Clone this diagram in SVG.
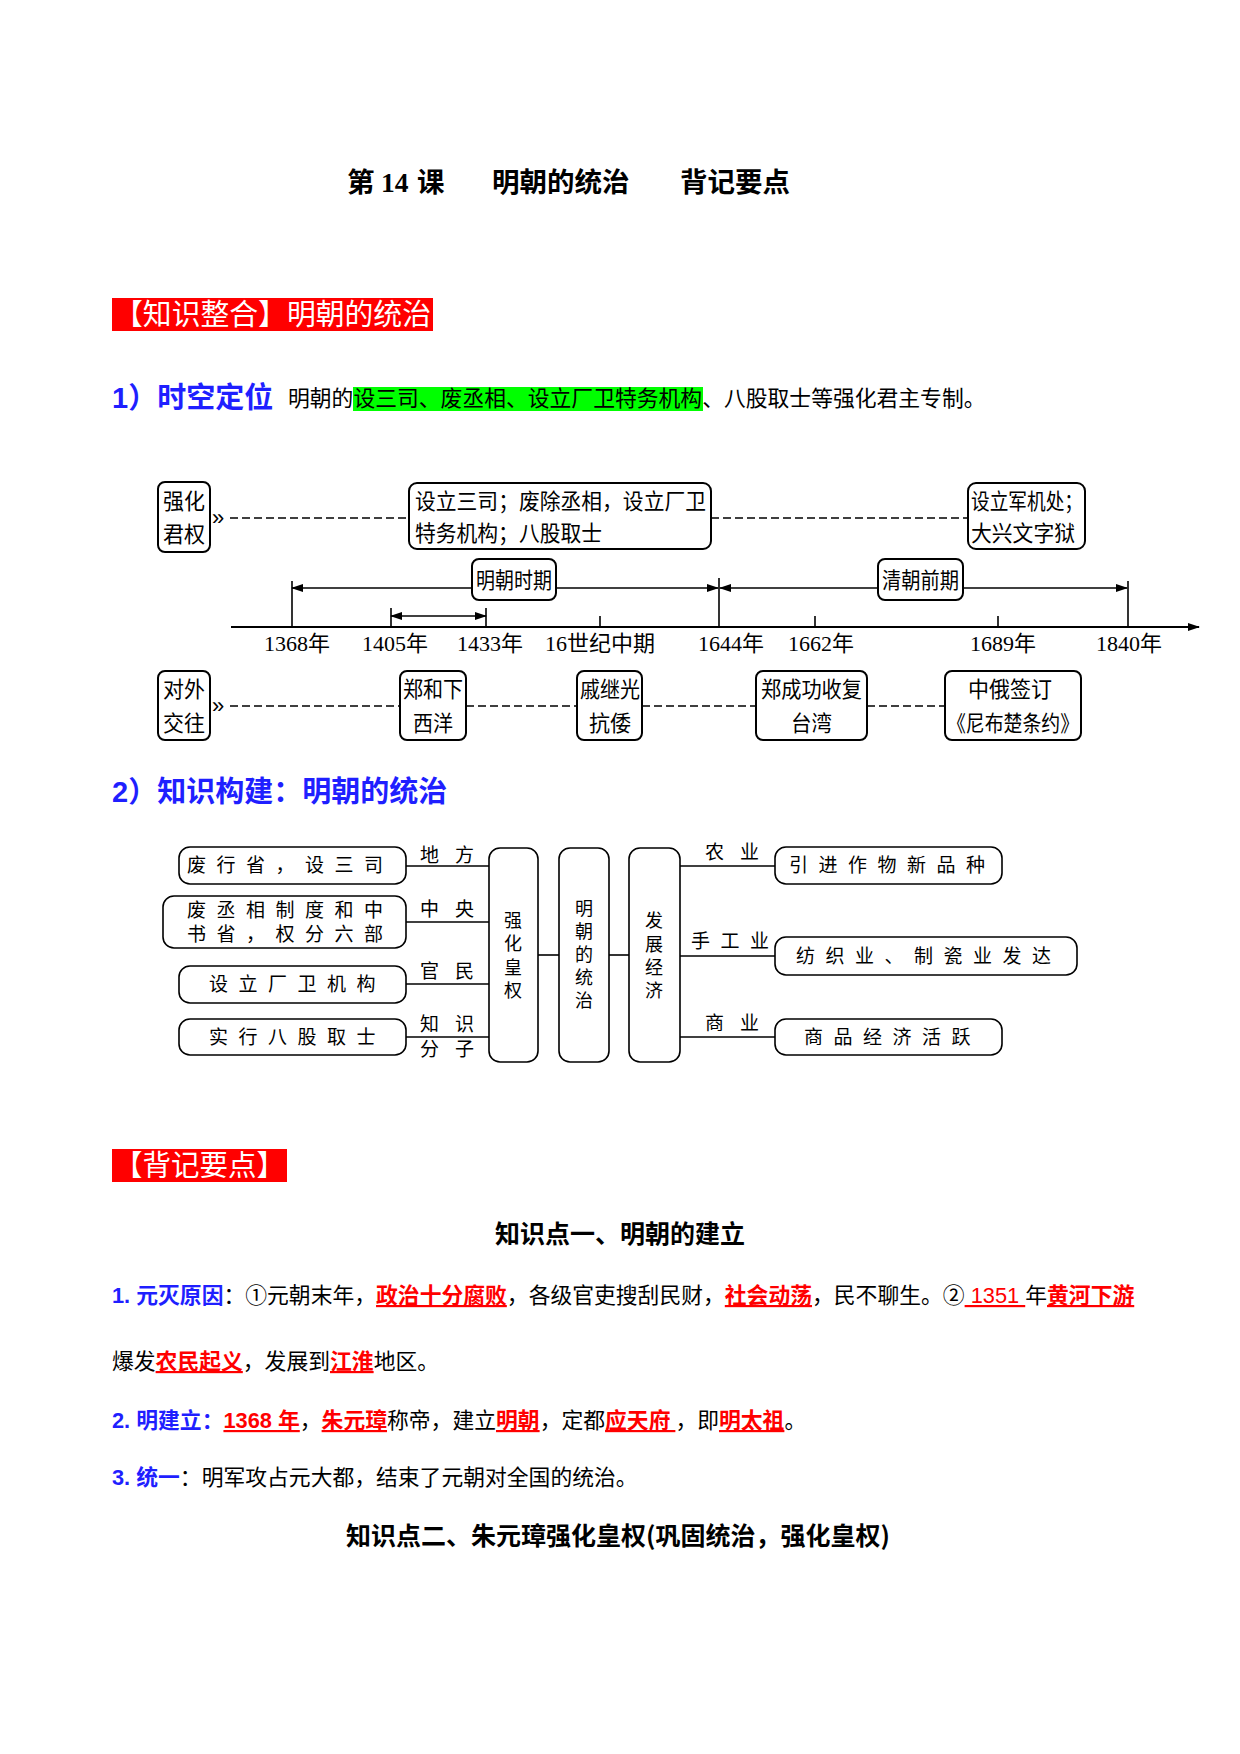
<svg xmlns="http://www.w3.org/2000/svg" width="1240" height="1754" viewBox="0 0 1240 1754">
<style>
text{font-family:"Noto Sans CJK SC","Liberation Sans",sans-serif;fill:#000}
.title{font-size:27.5px;font-weight:bold}
.banner{fill:#ff0000}
.bt{font-size:29px;fill:#fff}
.h{font-size:29px;font-weight:bold;fill:#1f1fff}
.body{font-size:21.8px;white-space:pre}
.blue{fill:#1f1fff;font-weight:bold}
.red{fill:#ff0000;font-weight:bold;text-decoration:underline}
.redn{fill:#ff0000;text-decoration:underline}
.sub{font-size:25px;font-weight:bold}
.tb{fill:#fff;stroke:#000;stroke-width:2}
.tt{font-size:22px}
.lab{font-size:22px}
.num{font-family:"Liberation Serif",serif}
.dash{stroke:#000;stroke-width:1.6;stroke-dasharray:8 4;fill:none}
.ln{stroke:#000;stroke-width:1.6;fill:none}
.sb{fill:#fff;stroke:#000;stroke-width:1.6}
.st{font-size:19px;letter-spacing:10.5px}
.sl{font-size:19px;letter-spacing:16px}
.vt{font-size:18px;text-anchor:middle}
.chev{font-size:22px;font-family:"Liberation Sans",sans-serif}
</style>
<defs>
<marker id="ar" markerWidth="12" markerHeight="10" refX="11" refY="5" orient="auto-start-reverse" markerUnits="userSpaceOnUse">
<path d="M0,1 L12,5 L0,9 Z" fill="#000"/>
</marker>
</defs>
<rect width="1240" height="1754" fill="#fff"/>

<g id="title">
<text class="title" y="192"><tspan x="347">第</tspan><tspan x="381" class="num">14</tspan><tspan x="417">课</tspan><tspan x="492">明朝的统治</tspan><tspan x="680">背记要点</tspan></text>
</g>

<g id="banner1">
<rect class="banner" x="112" y="298" width="321" height="33"/>
<text class="bt" x="114" y="325" textLength="317" lengthAdjust="spacingAndGlyphs">【知识整合】明朝的统治</text>
</g>

<g id="sec1">
<text class="h" x="112" y="408"><tspan font-family="Liberation Sans">1</tspan>）时空定位</text>
<rect x="353" y="387" width="350" height="24" fill="#00ff00"/>
<text x="288" y="406" style="font-size:21.8px">明朝的设三司、废丞相、设立厂卫特务机构、八股取士等强化君主专制。</text>
</g>

<g id="connectors">
<line class="dash" x1="230" y1="518" x2="409" y2="518"/>
<line class="dash" x1="711" y1="518" x2="968" y2="518"/>
<line class="dash" x1="230" y1="706" x2="400" y2="706"/>
<line class="dash" x1="466" y1="706" x2="577" y2="706"/>
<line class="dash" x1="642" y1="706" x2="756" y2="706"/>
<line class="dash" x1="867" y1="706" x2="945" y2="706"/>
<line class="ln" x1="292" y1="588" x2="718" y2="588" marker-start="url(#ar)" marker-end="url(#ar)"/>
<line class="ln" x1="720" y1="588" x2="1127" y2="588" marker-start="url(#ar)" marker-end="url(#ar)"/>
<line class="ln" x1="391" y1="616" x2="486" y2="616" marker-start="url(#ar)" marker-end="url(#ar)"/>
<line class="ln" x1="231" y1="627" x2="1199" y2="627" marker-end="url(#ar)" style="stroke-width:2"/>
<line class="ln" x1="292" y1="581" x2="292" y2="627"/>
<line class="ln" x1="719" y1="578" x2="719" y2="627"/>
<line class="ln" x1="1128" y1="581" x2="1128" y2="627"/>
<line class="ln" x1="391" y1="608" x2="391" y2="627"/>
<line class="ln" x1="486" y1="608" x2="486" y2="627"/>
<line class="ln" x1="600" y1="616" x2="600" y2="627"/>
<line class="ln" x1="815" y1="616" x2="815" y2="627"/>
<line class="ln" x1="998" y1="616" x2="998" y2="627"/>
<text class="chev" x="212" y="525">»</text>
<text class="chev" x="212" y="713">»</text>
<line class="ln" x1="406" y1="866" x2="489" y2="866"/>
<line class="ln" x1="406" y1="922" x2="489" y2="922"/>
<line class="ln" x1="406" y1="984" x2="489" y2="984"/>
<line class="ln" x1="406" y1="1037" x2="489" y2="1037"/>
<line class="ln" x1="538" y1="955" x2="559" y2="955"/>
<line class="ln" x1="609" y1="955" x2="629" y2="955"/>
<line class="ln" x1="680" y1="866" x2="775" y2="866"/>
<line class="ln" x1="680" y1="956" x2="775" y2="956"/>
<line class="ln" x1="680" y1="1037" x2="775" y2="1037"/>
</g>

<g id="n-qhjq">
<rect class="tb" x="158" y="482" width="52" height="70" rx="7"/>
<text class="tt" x="163" y="509" textLength="42" lengthAdjust="spacingAndGlyphs">强化</text>
<text class="tt" x="163" y="542" textLength="42" lengthAdjust="spacingAndGlyphs">君权</text>
</g>
<g id="n-ming-measures">
<rect class="tb" x="409" y="483" width="302" height="66" rx="8"/>
<text class="tt" x="415" y="509" textLength="291" lengthAdjust="spacingAndGlyphs">设立三司；废除丞相，设立厂卫</text>
<text class="tt" x="415" y="541" textLength="187" lengthAdjust="spacingAndGlyphs">特务机构；八股取士</text>
</g>
<g id="n-qing-measures">
<rect class="tb" x="968" y="483" width="117" height="66" rx="8"/>
<text class="tt" x="971" y="509" textLength="112" lengthAdjust="spacingAndGlyphs">设立军机处；</text>
<text class="tt" x="971" y="541" textLength="104" lengthAdjust="spacingAndGlyphs">大兴文字狱</text>
</g>
<g id="n-ming-period">
<rect class="tb" x="472" y="559" width="84" height="41" rx="7"/>
<text class="tt" x="476" y="588" textLength="76" lengthAdjust="spacingAndGlyphs">明朝时期</text>
</g>
<g id="n-qing-period">
<rect class="tb" x="878" y="559" width="85" height="41" rx="7"/>
<text class="tt" x="882" y="588" textLength="77" lengthAdjust="spacingAndGlyphs">清朝前期</text>
</g>

<g id="years" class="lab" text-anchor="middle">
<text x="297" y="651"><tspan class="num">1368</tspan>年</text>
<text x="395" y="651"><tspan class="num">1405</tspan>年</text>
<text x="490" y="651"><tspan class="num">1433</tspan>年</text>
<text x="600" y="651"><tspan class="num">16</tspan>世纪中期</text>
<text x="731" y="651"><tspan class="num">1644</tspan>年</text>
<text x="821" y="651"><tspan class="num">1662</tspan>年</text>
<text x="1003" y="651"><tspan class="num">1689</tspan>年</text>
<text x="1129" y="651"><tspan class="num">1840</tspan>年</text>
</g>

<g id="n-dwjw">
<rect class="tb" x="158" y="671" width="52" height="69" rx="7"/>
<text class="tt" x="163" y="697" textLength="42" lengthAdjust="spacingAndGlyphs">对外</text>
<text class="tt" x="163" y="731" textLength="42" lengthAdjust="spacingAndGlyphs">交往</text>
</g>
<g id="n-zhx">
<rect class="tb" x="400" y="671" width="66" height="69" rx="7"/>
<text class="tt" x="403" y="697" textLength="60" lengthAdjust="spacingAndGlyphs">郑和下</text>
<text class="tt" x="413" y="731" textLength="40" lengthAdjust="spacingAndGlyphs">西洋</text>
</g>
<g id="n-qjg">
<rect class="tb" x="577" y="671" width="65" height="69" rx="7"/>
<text class="tt" x="580" y="697" textLength="60" lengthAdjust="spacingAndGlyphs">戚继光</text>
<text class="tt" x="589" y="731" textLength="42" lengthAdjust="spacingAndGlyphs">抗倭</text>
</g>
<g id="n-zcg">
<rect class="tb" x="756" y="671" width="111" height="69" rx="7"/>
<text class="tt" x="761" y="697" textLength="101" lengthAdjust="spacingAndGlyphs">郑成功收复</text>
<text class="tt" x="791" y="731" textLength="41" lengthAdjust="spacingAndGlyphs">台湾</text>
</g>
<g id="n-nbc">
<rect class="tb" x="945" y="671" width="136" height="69" rx="7"/>
<text class="tt" x="968" y="697" textLength="84" lengthAdjust="spacingAndGlyphs">中俄签订</text>
<text class="tt" x="947" y="731" textLength="132" lengthAdjust="spacingAndGlyphs">《尼布楚条约》</text>
</g>

<g id="sec2">
<text class="h" x="112" y="802"><tspan font-family="Liberation Sans">2</tspan>）知识构建：明朝的统治</text>
</g>

<g id="labels">
<text class="sl" x="420" y="862">地方</text>
<text class="sl" x="420" y="916">中央</text>
<text class="sl" x="420" y="978">官民</text>
<text class="sl" x="420" y="1031">知识</text>
<text class="sl" x="420" y="1056">分子</text>
<text class="sl" x="705" y="859">农业</text>
<text class="st" x="691" y="948">手工业</text>
<text class="sl" x="705" y="1030">商业</text>
</g>

<g id="n-s1">
<rect class="sb" x="179" y="847" width="227" height="37" rx="11"/>
<text class="st" x="187" y="872">废行省，设三司</text>
</g>
<g id="n-s2">
<rect class="sb" x="163" y="896" width="243" height="52" rx="11"/>
<text class="st" x="187" y="917">废丞相制度和中</text>
<text class="st" x="187" y="941">书省，权分六部</text>
</g>
<g id="n-s3">
<rect class="sb" x="179" y="966" width="227" height="37" rx="11"/>
<text class="st" x="209" y="991">设立厂卫机构</text>
</g>
<g id="n-s4">
<rect class="sb" x="179" y="1019" width="227" height="36" rx="11"/>
<text class="st" x="209" y="1044">实行八股取士</text>
</g>
<g id="n-qhhq">
<rect class="sb" x="489" y="848" width="49" height="214" rx="11"/>
<text class="vt" x="513" y="927">强</text>
<text class="vt" x="513" y="950">化</text>
<text class="vt" x="513" y="974">皇</text>
<text class="vt" x="513" y="997">权</text>
</g>
<g id="n-mcdtz">
<rect class="sb" x="559" y="848" width="50" height="214" rx="11"/>
<text class="vt" x="584" y="915">明</text>
<text class="vt" x="584" y="938">朝</text>
<text class="vt" x="584" y="961">的</text>
<text class="vt" x="584" y="984">统</text>
<text class="vt" x="584" y="1007">治</text>
</g>
<g id="n-fzjj">
<rect class="sb" x="629" y="848" width="51" height="214" rx="11"/>
<text class="vt" x="654" y="927">发</text>
<text class="vt" x="654" y="951">展</text>
<text class="vt" x="654" y="974">经</text>
<text class="vt" x="654" y="997">济</text>
</g>
<g id="n-r1">
<rect class="sb" x="775" y="847" width="227" height="37" rx="11"/>
<text class="st" x="789" y="872">引进作物新品种</text>
</g>
<g id="n-r2">
<rect class="sb" x="775" y="937" width="302" height="38" rx="11"/>
<text class="st" x="796" y="963">纺织业、制瓷业发达</text>
</g>
<g id="n-r3">
<rect class="sb" x="775" y="1019" width="227" height="36" rx="11"/>
<text class="st" x="804" y="1044">商品经济活跃</text>
</g>

<g id="banner2">
<rect class="banner" x="112" y="1149" width="175" height="33"/>
<text class="bt" x="114" y="1176" textLength="171" lengthAdjust="spacingAndGlyphs">【背记要点】</text>
</g>

<g id="points">
<text class="sub" x="620" y="1243" text-anchor="middle">知识点一、明朝的建立</text>
<text class="body" x="112" y="1303"><tspan class="blue" font-family="Liberation Sans">1. </tspan><tspan class="blue">元灭原因</tspan>：①元朝末年，<tspan class="red">政治十分腐败</tspan>，各级官吏搜刮民财，<tspan class="red">社会动荡</tspan>，民不聊生。②<tspan class="redn" font-family="Liberation Sans"> 1351 </tspan>年<tspan class="red">黄河下游</tspan></text>
<text class="body" x="112" y="1369">爆发<tspan class="red">农民起义</tspan>，发展到<tspan class="red">江淮</tspan>地区。</text>
<text class="body" x="112" y="1428"><tspan class="blue" font-family="Liberation Sans">2. </tspan><tspan class="blue">明建立：</tspan><tspan class="red"><tspan font-family="Liberation Sans">1368 </tspan>年</tspan>，<tspan class="red">朱元璋</tspan>称帝，建立<tspan class="red">明朝</tspan>，定都<tspan class="red">应天府 </tspan>，即<tspan class="red">明太祖</tspan>。</text>
<text class="body" x="112" y="1485"><tspan class="blue" font-family="Liberation Sans">3. </tspan><tspan class="blue">统一</tspan>：明军攻占元大都，结束了元朝对全国的统治。</text>
<text class="sub" x="618" y="1545" text-anchor="middle">知识点二、朱元璋强化皇权(巩固统治，强化皇权)</text>
</g>
</svg>
